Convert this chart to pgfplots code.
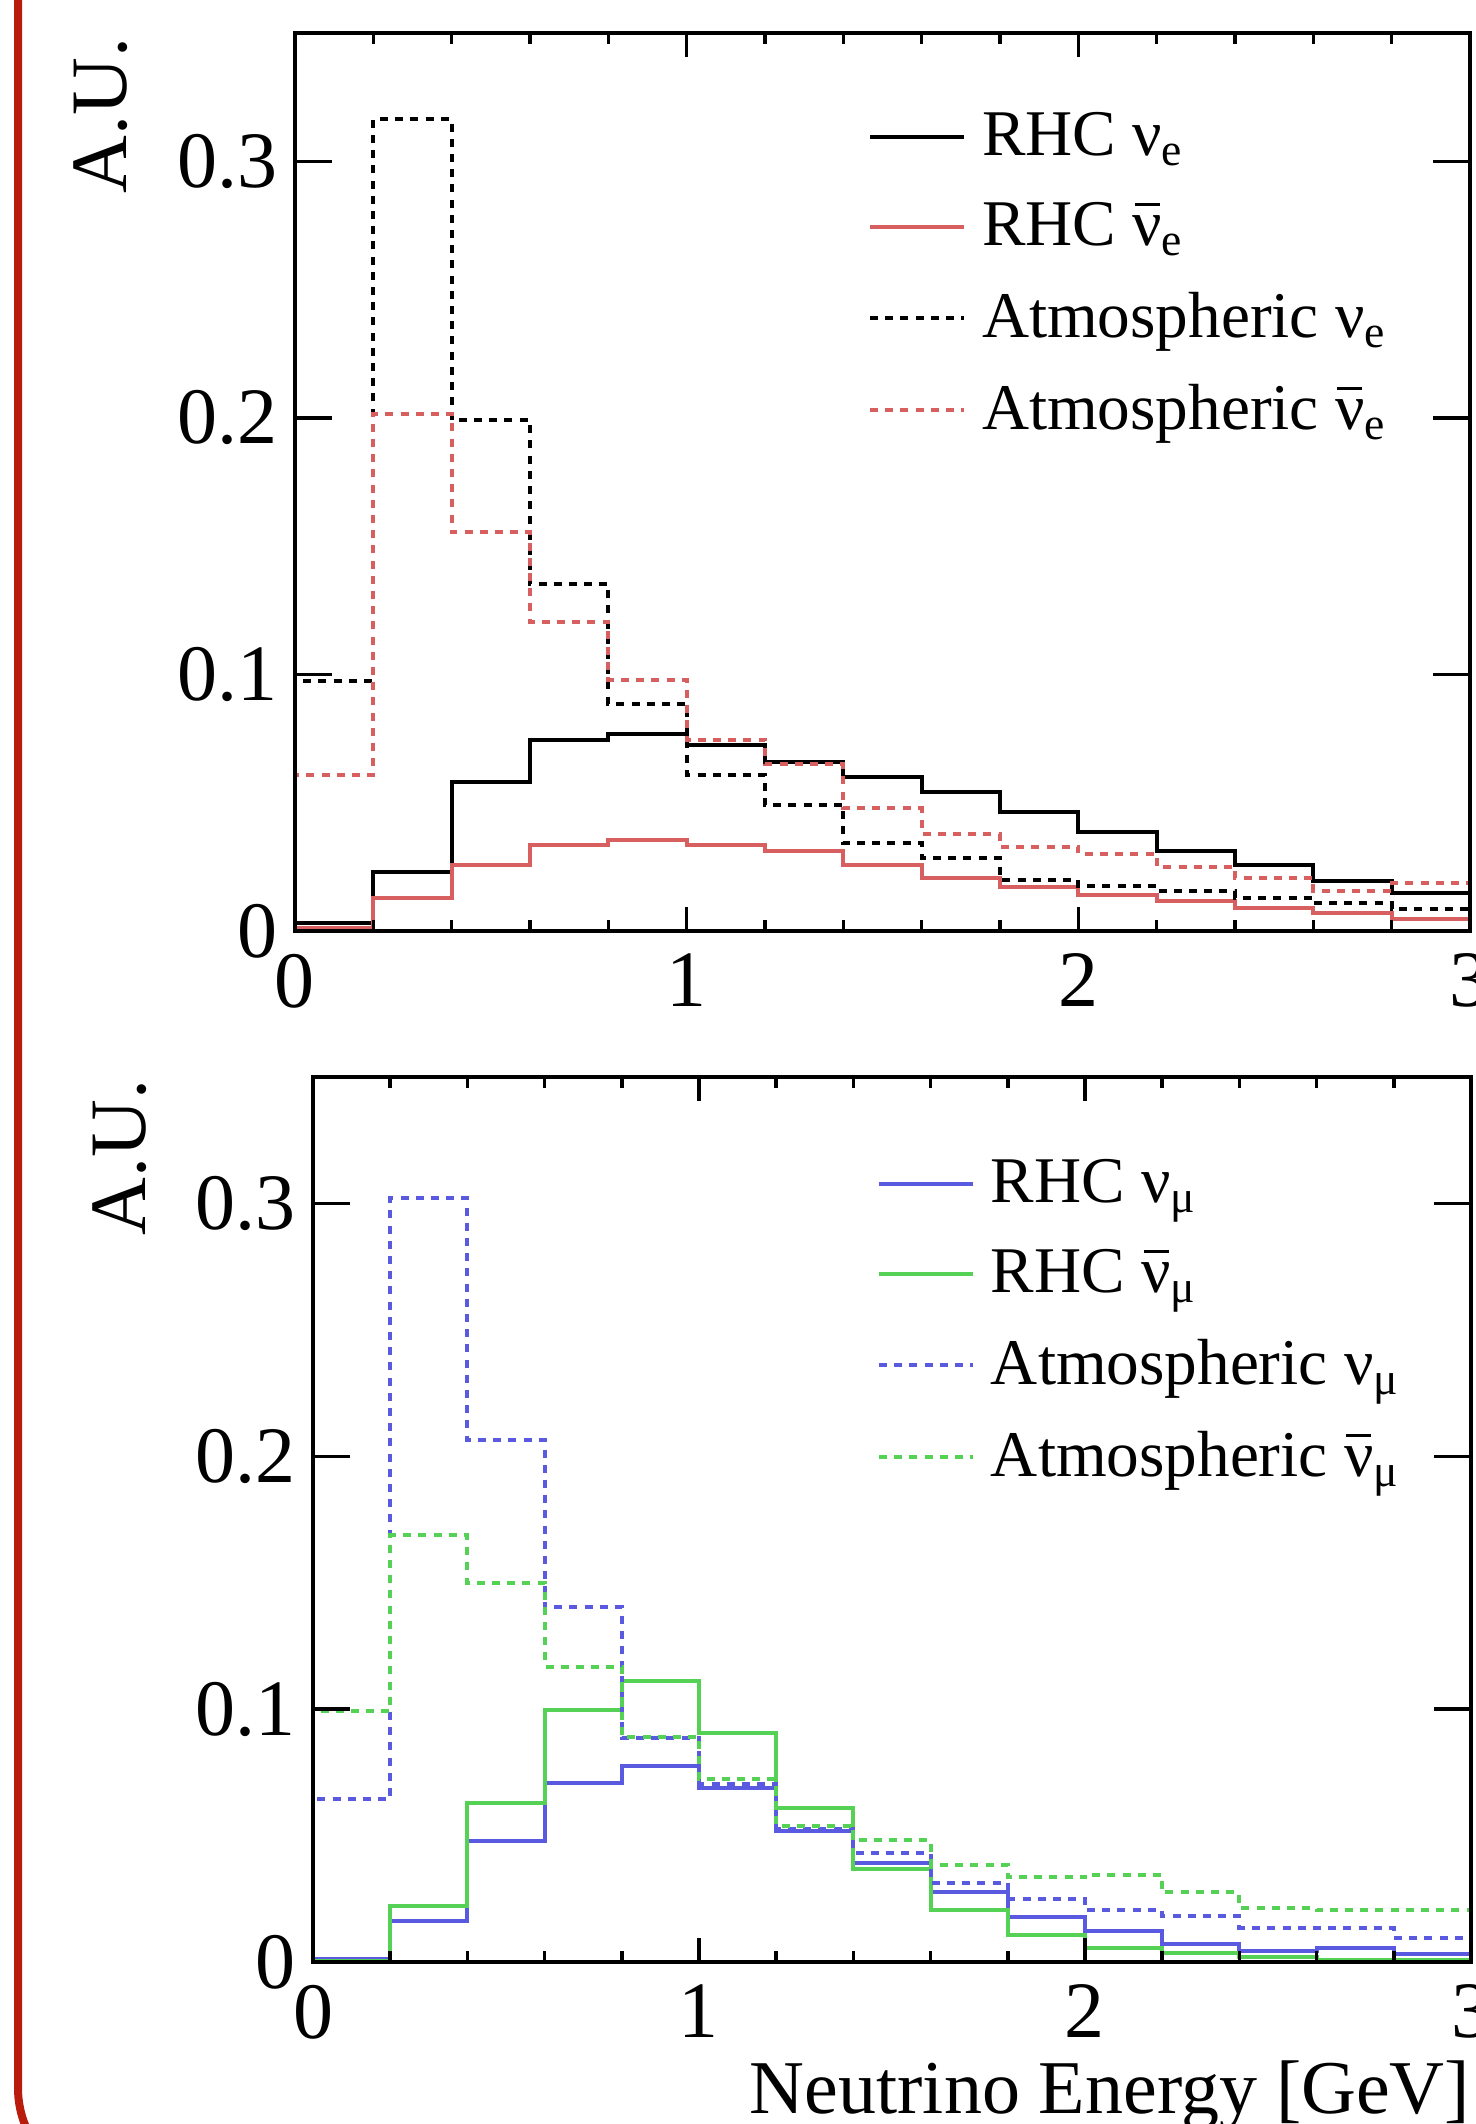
\documentclass[border=0pt]{standalone}
\usepackage{fontspec}
\setmainfont{Liberation Serif}
\usepackage{pgfplots}
\pgfplotsset{compat=1.18}
\definecolor{cred}{RGB}{215,95,95}
\definecolor{cblue}{RGB}{90,90,225}
\definecolor{cgreen}{RGB}{85,210,85}
\definecolor{cframe}{RGB}{185,28,12}

% nu with a bar over it
\newcommand{\nub}{\leavevmode\setbox0\hbox{ν}\rlap{\hbox to \wd0{\hss\raisebox{0.6em}{\rule{0.85\wd0}{0.05em}}\hss}}\box0}

\pgfplotsset{
  root/.style={
    scale only axis, xmin=0, xmax=3, ymin=0, ymax=0.35, axis on top,
    axis line style={line width=1pt},
    every tick/.style={black, line width=0.9pt},
    major tick length=9.3pt, minor tick length=2.75pt, tick align=inside,
    xtick={0,3}, xticklabels={0,3},
    extra x ticks={1,2}, extra x tick labels={1,2},
    extra x tick style={major tick length=6pt},
    minor x tick num=14,
    ytick={0,0.1,0.2,0.3}, yticklabels={0,0.1,0.2,0.3}, minor y tick num=0,
    xticklabel style={font=\fontsize{20}{24}\selectfont, inner sep=0pt, yshift=-5.5pt},
    yticklabel style={font=\fontsize{20}{24}\selectfont, inner sep=0pt, xshift=-4.25pt},
    ylabel={A.U.},
    every axis y label/.style={rotate=90, anchor=east, inner sep=0pt, font=\fontsize{20}{24}\selectfont},
    legend style={draw=none, fill=none, inner sep=0pt, outer sep=0pt, anchor=north west,
      font=\fontsize{16.3}{19}\selectfont, row sep=10.2pt, column sep=4pt, nodes={inner sep=0pt}},
    legend cell align=left,
    legend image code/.code={\draw[##1] (0pt,0pt) -- (23.5pt,0pt);},
    every axis plot/.append style={const plot mark left, no marks},
  },
  sol/.style={line width=1pt},
  dsh/.style={line width=1pt, dash pattern=on 2pt off 1.8pt},
}

\begin{document}
\begin{tikzpicture}
\path[use as bounding box] (0pt,0pt) rectangle (369pt,-531pt);
\draw[cframe, line width=2pt, rounded corners=25pt] (4.5pt,30pt) rectangle (420pt,-547pt);

% top panel: electron neutrinos
\begin{axis}[root, at={(73.75pt,-8.25pt)}, anchor=north west, width=293.75pt, height=224.5pt,
  ylabel style={at={(axis description cs:-0.1651,0.9955)}},
  legend style={at={(axis description cs:0.4877,0.912)}}]
\addplot[sol, black] coordinates {(0,0) (0,0.003) (0.2,0.023) (0.4,0.058) (0.6,0.0746) (0.8,0.0766)
  (1.0,0.0726) (1.2,0.066) (1.4,0.060) (1.6,0.054) (1.8,0.0465) (2.0,0.0386) (2.2,0.031)
  (2.4,0.0258) (2.6,0.0196) (2.8,0.0148) (3.0,0.0148)};
\addlegendentry{RHC ν\textsubscript{e}}
\addplot[sol, cred] coordinates {(0,0) (0,0.001) (0.2,0.013) (0.4,0.0256) (0.6,0.0336) (0.8,0.0353)
  (1.0,0.0336) (1.2,0.031) (1.4,0.0256) (1.6,0.0206) (1.8,0.017) (2.0,0.014) (2.2,0.0118)
  (2.4,0.009) (2.6,0.007) (2.8,0.0047) (3.0,0.0047)};
\addlegendentry{RHC \nub\textsubscript{e}}
\addplot[dsh, black] coordinates {(0,0) (0,0.0975) (0.2,0.3164) (0.4,0.199) (0.6,0.1353) (0.8,0.0886)
  (1.0,0.061) (1.2,0.049) (1.4,0.0343) (1.6,0.0284) (1.8,0.0199) (2.0,0.0174) (2.2,0.0156)
  (2.4,0.0129) (2.6,0.0109) (2.8,0.0086) (3.0,0.0086)};
\addlegendentry{Atmospheric ν\textsubscript{e}}
\addplot[dsh, cred] coordinates {(0,0) (0,0.0607) (0.2,0.2017) (0.4,0.1555) (0.6,0.1204) (0.8,0.098)
  (1.0,0.0746) (1.2,0.065) (1.4,0.0478) (1.6,0.0378) (1.8,0.0328) (2.0,0.0299) (2.2,0.025)
  (2.4,0.0207) (2.6,0.0157) (2.8,0.0187) (3.0,0.0187)};
\addlegendentry{Atmospheric \nub\textsubscript{e}}
\end{axis}

% bottom panel: muon neutrinos
\begin{axis}[root, at={(78.25pt,-269.25pt)}, anchor=north west, width=289.5pt, height=221.25pt,
  ylabel style={at={(axis description cs:-0.1667,0.9977)}},
  legend style={at={(axis description cs:0.487,0.907)}},
  xlabel={Neutrino Energy [GeV]},
  xlabel style={at={(axis description cs:1,0)}, anchor=base east, inner sep=0pt, yshift=-37.75pt,
    font=\fontsize{19}{23}\selectfont}]
\addplot[sol, cblue] coordinates {(0,0) (0,0.001) (0.2,0.0162) (0.4,0.048) (0.6,0.0709) (0.8,0.0777)
  (1.0,0.069) (1.2,0.052) (1.4,0.039) (1.6,0.0275) (1.8,0.018) (2.0,0.0122) (2.2,0.0072)
  (2.4,0.0043) (2.6,0.0057) (2.8,0.0031) (3.0,0.0031)};
\addlegendentry{RHC ν\textsubscript{μ}}
\addplot[sol, cgreen] coordinates {(0,0) (0,0.0005) (0.2,0.022) (0.4,0.063) (0.6,0.0998) (0.8,0.111)
  (1.0,0.0907) (1.2,0.061) (1.4,0.0369) (1.6,0.0204) (1.8,0.0105) (2.0,0.0057) (2.2,0.0037)
  (2.4,0.002) (2.6,0.0008) (2.8,0.0008) (3.0,0.0008)};
\addlegendentry{RHC \nub\textsubscript{μ}}
\addplot[dsh, cblue] coordinates {(0,0) (0,0.0644) (0.2,0.302) (0.4,0.2064) (0.6,0.1403) (0.8,0.0885)
  (1.0,0.0703) (1.2,0.0525) (1.4,0.0431) (1.6,0.0312) (1.8,0.025) (2.0,0.0204) (2.2,0.0182)
  (2.4,0.0136) (2.6,0.0136) (2.8,0.0096) (3.0,0.0096)};
\addlegendentry{Atmospheric ν\textsubscript{μ}}
\addplot[dsh, cgreen] coordinates {(0,0) (0,0.0992) (0.2,0.1687) (0.4,0.1497) (0.6,0.1168) (0.8,0.089)
  (1.0,0.0723) (1.2,0.0539) (1.4,0.0482) (1.6,0.0383) (1.8,0.0335) (2.0,0.0346) (2.2,0.0275)
  (2.4,0.0215) (2.6,0.0204) (2.8,0.0204) (3.0,0.0204)};
\addlegendentry{Atmospheric \nub\textsubscript{μ}}
\end{axis}
\end{tikzpicture}
\end{document}
